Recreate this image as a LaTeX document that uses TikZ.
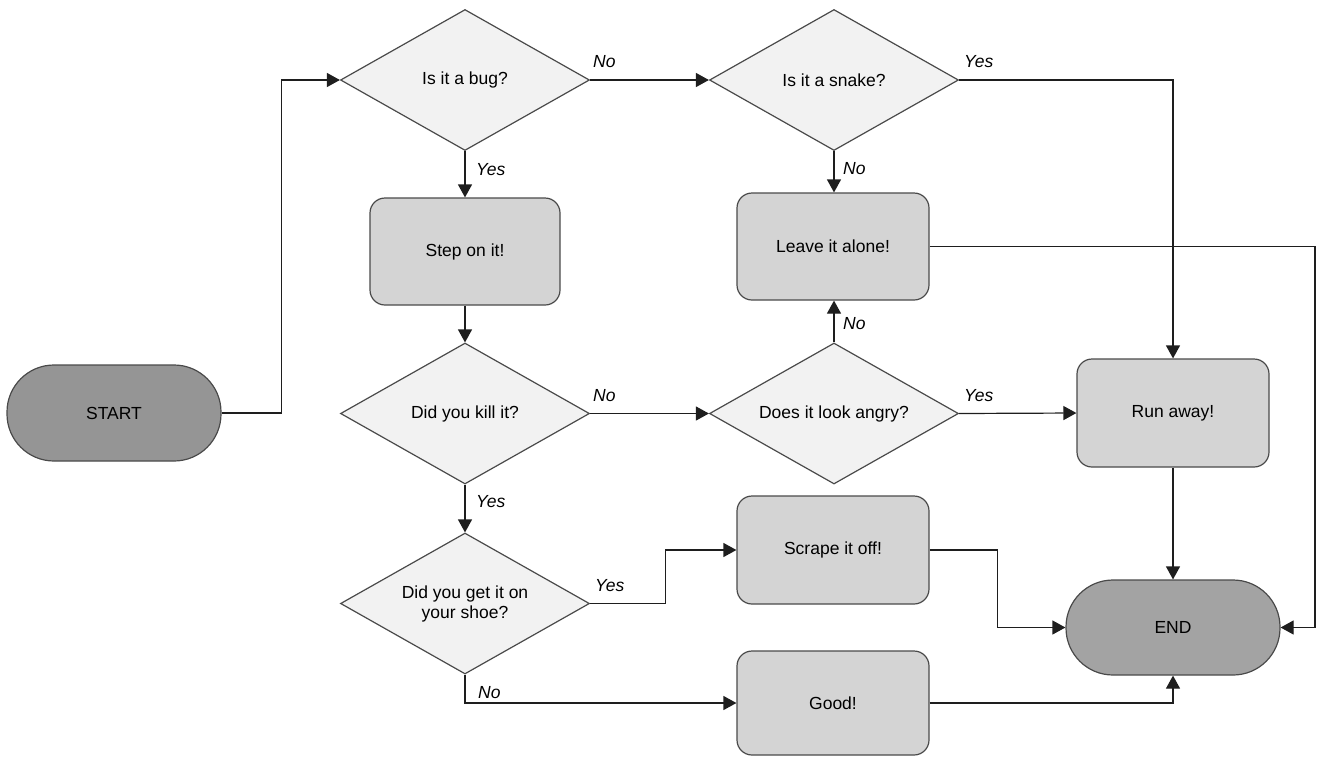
\documentclass[tikz,border=0pt]{standalone}
\usepackage{fontspec}
\setmainfont{Liberation Sans}
\usetikzlibrary{shapes.geometric,arrows.meta,calc}
\definecolor{decfill}{HTML}{F2F2F2}
\definecolor{procfill}{HTML}{D4D4D4}
\definecolor{startfill}{HTML}{959595}
\definecolor{endfill}{HTML}{A3A3A3}
\definecolor{edgecol}{HTML}{4A4A4A}
\definecolor{linecol}{HTML}{1E1E1E}
\begin{document}
\begin{tikzpicture}[x=1pt,y=-1pt,
  every node/.style={font=\fontsize{17.5}{20}\selectfont},
  decision/.style={diamond, aspect=1.766, draw=edgecol, line width=1.2pt, fill=decfill,
    minimum width=249pt, minimum height=141pt, inner sep=0pt, align=center},
  process/.style={rectangle, rounded corners=15pt, draw=edgecol, line width=1.2pt, fill=procfill,
    minimum width=192pt, minimum height=107pt, inner sep=0pt},
  terminal/.style={rectangle, rounded corners=47pt, draw=edgecol, line width=1.2pt,
    minimum width=214pt, minimum height=96pt, inner sep=0pt},
  conn/.style={draw=linecol, line width=1.2pt, -{Triangle[length=13pt,width=14pt]}},
  plain/.style={draw=linecol, line width=1.2pt},
  lab/.style={font=\fontsize{17.5}{20}\selectfont\itshape, anchor=base west, inner sep=0pt}
]
\useasboundingbox (0,0) rectangle (1325,756);

\node[terminal, fill=startfill] (start) at (114,413) {START};
\node[decision] (bug) at (465,80) {Is it a bug?};
\node[process, minimum width=190pt] (step) at (465,251.5) {Step on it!};
\node[decision] (kill) at (465,413.5) {Did you kill it?};
\node[decision] (shoe) at (465,603.5) {Did you get it on\\your shoe?};
\node[decision] (snake) at (834,80) {Is it a snake?};
\node[process] (leave) at (833,246.5) {Leave it alone!};
\node[decision] (angry) at (834,413.5) {Does it look angry?};
\node[process, minimum height=108pt] (run) at (1173,413) {Run away!};
\node[process, minimum height=108pt] (scrape) at (833,550) {Scrape it off!};
\node[process, minimum height=104pt] (good) at (833,703) {Good!};
\node[terminal, fill=endfill, minimum height=95pt] (end) at (1173,627.5) {END};

\coordinate (rx) at (1315,0);

\draw[conn] (start.east) -- ++(60,0) |- (bug.west);
\draw[conn] (bug.east) -- (snake.west);
\draw[conn] (bug.south) -- (step.north);
\draw[conn] (step.south) -- (kill.north);
\draw[conn] (kill.east) -- (angry.west);
\draw[conn] (kill.south) -- (shoe.north);
\draw[conn] (shoe.east) -- ++(75,0) |- (scrape.west);
\draw[conn] (shoe.south) |- (good.west);
\draw[conn] (snake.south) -- (snake.south |- leave.north);
\draw[conn] (snake.east) -| (run.north);
\draw[conn] (angry.north) -- (angry.north |- leave.south);
\draw[conn] (angry.east) -- (run.west);
\draw[conn] (leave.east) -- (leave.east -| rx) |- (end.east);
\draw[conn] (run.south) -- (end.north);
\draw[conn] (scrape.east) -- ++(68,0) |- (end.west);
\draw[conn] (good.east) -| (end.south);

\node[lab] (l1) at (593,67) {No};
\node[lab] (l2) at (476,175) {Yes};
\node[lab] (l3) at (964,67) {Yes};
\node[lab] (l4) at (843,174) {No};
\node[lab] (l5) at (593,401) {No};
\node[lab] (l6) at (476,507) {Yes};
\node[lab] (l7) at (843,329) {No};
\node[lab] (l8) at (964,401) {Yes};
\node[lab] (l9) at (595,591) {Yes};
\node[lab] (l10) at (478,698) {No};
\end{tikzpicture}
\end{document}
